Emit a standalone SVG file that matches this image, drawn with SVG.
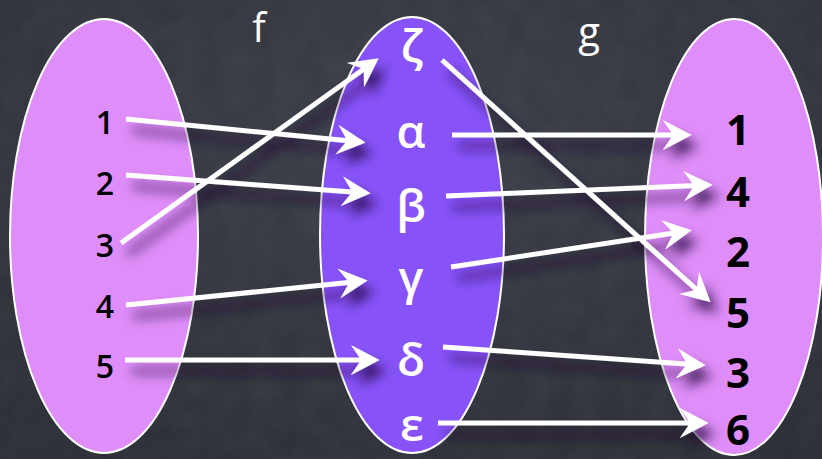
<svg xmlns="http://www.w3.org/2000/svg" width="822" height="459" viewBox="0 0 822 459">
<style>
.set{stroke:#ffffff;stroke-width:2}
.pink{fill:#df8df9}
.purple{fill:#8852f9}
.lbl{font-family:"Open Sans","DejaVu Sans",sans-serif;text-anchor:middle}
.dom{font-size:32px;fill:#000;font-weight:600}
.mid{font-size:46px;fill:#fff;font-weight:600}
.cod{font-size:42px;fill:#000;font-weight:700}
.fn{font-size:40px;fill:#fff;font-weight:400}
.arr{stroke:#fff;stroke-width:5;fill:none;marker-end:url(#ah)}
</style>
<defs>
<radialGradient id="bg" cx="0.5" cy="0.3" r="0.8">
<stop offset="0" stop-color="#3a3d47"/>
<stop offset="1" stop-color="#2b2d34"/>
</radialGradient>
<filter id="noise" x="0" y="0" width="100%" height="100%">
<feTurbulence type="fractalNoise" baseFrequency="0.04" numOctaves="3" seed="4"/>
<feColorMatrix values="0 0 0 0 1  0 0 0 0 1  0 0 0 0 1  0 0 0 0.05 0"/>
</filter>
<filter id="shadow" x="-10%" y="-10%" width="130%" height="140%">
<feDropShadow dx="7" dy="11" stdDeviation="6" flood-color="#1a0630" flood-opacity="0.75"/>
</filter>
<marker id="ah" markerUnits="userSpaceOnUse" markerWidth="30" markerHeight="30" viewBox="0 0 26 26" refX="21" refY="13" orient="auto">
<path d="M25,13 L0,0 L9,13 L0,26 Z" fill="#fff"/>
</marker>
</defs>
<rect width="822" height="459" fill="url(#bg)"/>
<rect width="822" height="459" filter="url(#noise)"/>

<g id="set-domain">
<ellipse class="set pink" cx="104" cy="236" rx="94" ry="217"/>
<text class="lbl dom" x="105" y="134">1</text>
<text class="lbl dom" x="105" y="195">2</text>
<text class="lbl dom" x="105" y="257">3</text>
<text class="lbl dom" x="105" y="318">4</text>
<text class="lbl dom" x="105" y="378">5</text>
</g>

<g id="set-middle">
<ellipse class="set purple" cx="412" cy="235" rx="92" ry="218"/>
<text class="lbl mid" x="412" y="62">ζ</text>
<text class="lbl mid" x="411" y="148">α</text>
<text class="lbl mid" x="411" y="222">β</text>
<text class="lbl mid" x="411" y="294">γ</text>
<text class="lbl mid" x="411" y="376">δ</text>
<text class="lbl mid" x="412" y="441">ε</text>
</g>

<g id="set-codomain">
<ellipse class="set pink" cx="734" cy="237" rx="89" ry="218"/>
<text class="lbl cod" x="738" y="145">1</text>
<text class="lbl cod" x="738" y="207">4</text>
<text class="lbl cod" x="738" y="267">2</text>
<text class="lbl cod" x="738" y="328">5</text>
<text class="lbl cod" x="738" y="388">3</text>
<text class="lbl cod" x="738" y="445">6</text>
</g>

<g id="label-f"><text class="lbl fn" x="259" y="42">f</text></g>
<g id="label-g"><text class="lbl fn" x="589" y="46">g</text></g>

<g id="connectors" filter="url(#shadow)">
<line class="arr" x1="126" y1="119" x2="361" y2="142"/>
<line class="arr" x1="126" y1="175" x2="366" y2="193"/>
<line class="arr" x1="121" y1="243" x2="375" y2="61"/>
<line class="arr" x1="126" y1="305" x2="363" y2="281"/>
<line class="arr" x1="125" y1="360" x2="375" y2="360"/>
<line class="arr" x1="452" y1="135" x2="687" y2="135"/>
<line class="arr" x1="446" y1="196" x2="708" y2="185"/>
<line class="arr" x1="451" y1="267" x2="687" y2="231"/>
<line class="arr" x1="442" y1="60" x2="707" y2="299"/>
<line class="arr" x1="443" y1="347" x2="701" y2="365"/>
<line class="arr" x1="438" y1="423" x2="704" y2="423"/>
</g>
</svg>
